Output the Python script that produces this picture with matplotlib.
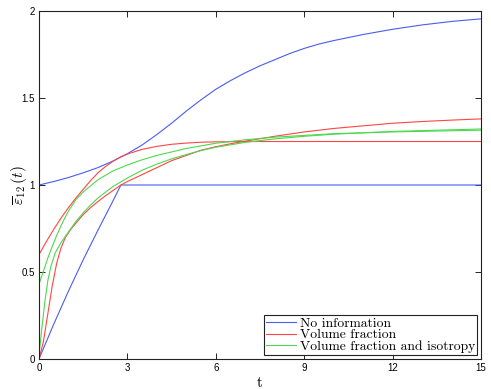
import numpy as np
import matplotlib
matplotlib.use('Agg')
import matplotlib.pyplot as plt
from matplotlib.ticker import FuncFormatter

plt.rcParams['mathtext.fontset'] = 'cm'

# values (t, bound)
t_noinfo_up = [0, 0.5, 1, 1.5, 2, 2.5, 3, 3.5, 4, 4.5, 5, 5.5, 6, 6.5, 7, 7.5, 8, 8.5, 9, 9.5, 10,
               11, 12, 13, 14, 15]
v_noinfo_up = [1.0, 1.02, 1.043, 1.07, 1.10, 1.137, 1.18, 1.23, 1.29, 1.355, 1.425, 1.49, 1.55, 1.60,
               1.645, 1.685, 1.72, 1.755, 1.785, 1.81, 1.83, 1.865, 1.895, 1.92, 1.94, 1.955]
t_noinfo_lo = [0, 0.5, 1, 1.5, 2, 2.5, 2.78, 15]
v_noinfo_lo = [0, 0.2, 0.39, 0.57, 0.74, 0.905, 1.0, 1.0]

t_vf_up = [0, 0.25, 0.5, 0.75, 1, 1.25, 1.5, 1.75, 2, 2.25, 2.5, 2.75, 3, 3.5, 4, 4.5, 5, 5.5, 6, 7, 15]
v_vf_up = [0.60, 0.675, 0.745, 0.81, 0.87, 0.925, 0.975, 1.025, 1.07, 1.105, 1.135, 1.16, 1.178,
           1.205, 1.222, 1.234, 1.241, 1.246, 1.248, 1.25, 1.25]
t_vf_lo = [0, 0.15, 0.3, 0.45, 0.6, 0.75, 0.9, 1.1, 1.3, 1.5, 1.75, 2, 2.25, 2.5, 2.78, 3, 3.5, 4, 4.5,
           5, 5.5, 6, 6.5, 7, 7.5, 8, 9, 10, 11, 12, 13, 14, 15]
v_vf_lo = [0, 0.1, 0.26, 0.42, 0.55, 0.64, 0.70, 0.75, 0.79, 0.83, 0.87, 0.905, 0.937, 0.967, 1.0,
           1.02, 1.06, 1.10, 1.14, 1.17, 1.20, 1.22, 1.237, 1.252, 1.266, 1.28, 1.305, 1.325, 1.34,
           1.355, 1.365, 1.373, 1.38]

t_iso_up = [0, 0.1, 0.2, 0.3, 0.4, 0.6, 0.8, 1.0, 1.25, 1.5, 1.75, 2, 2.5, 3, 3.5, 4, 4.5, 5, 5.5, 6,
            7, 8, 9, 10, 12, 15]
v_iso_up = [0.43, 0.48, 0.53, 0.58, 0.625, 0.71, 0.785, 0.85, 0.915, 0.96, 0.995, 1.03, 1.08, 1.115,
            1.145, 1.17, 1.19, 1.21, 1.225, 1.24, 1.26, 1.275, 1.285, 1.295, 1.305, 1.315]
t_iso_lo = [0, 0.05, 0.1, 0.2, 0.3, 0.4, 0.55, 0.75, 1.0, 1.25, 1.5, 1.75, 2, 2.5, 3, 3.5, 4, 4.5, 5,
            5.5, 6, 7, 8, 9, 10, 12, 15]
v_iso_lo = [0.03, 0.1, 0.18, 0.33, 0.45, 0.53, 0.61, 0.67, 0.73, 0.79, 0.84, 0.885, 0.925, 0.99, 1.04,
            1.085, 1.12, 1.15, 1.175, 1.198, 1.217, 1.245, 1.265, 1.28, 1.292, 1.308, 1.322]

labels = ['No information', 'Volume fraction', 'Volume fraction and isotropy']
colors = ['#4a5cf0', '#ff4545', '#4fd84f']

fig = plt.figure(figsize=(4.91, 3.89), dpi=100)
ax = fig.add_axes([0.0794, 0.0771, 0.9002, 0.8946])

lw = 0.8
ax.plot(t_noinfo_up, v_noinfo_up, color=colors[0], lw=lw, label=labels[0])
ax.plot(t_noinfo_lo, v_noinfo_lo, color=colors[0], lw=lw)
ax.plot(t_vf_up, v_vf_up, color=colors[1], lw=lw, label=labels[1])
ax.plot(t_vf_lo, v_vf_lo, color=colors[1], lw=lw)
ax.plot(t_iso_up, v_iso_up, color=colors[2], lw=lw, label=labels[2])
ax.plot(t_iso_lo, v_iso_lo, color=colors[2], lw=lw)

ax.set_xlim(0, 15)
ax.set_ylim(0, 2)
ax.set_xticks([0, 3, 6, 9, 12, 15])
ax.set_yticks([0, 0.5, 1, 1.5, 2])
ax.yaxis.set_major_formatter(FuncFormatter(lambda v, p: '%g' % v))
ax.tick_params(direction='in', top=True, right=True, length=4, width=0.6,
               labelsize=7, pad=3)
for lab in ax.get_xticklabels() + ax.get_yticklabels():
    lab.set_fontfamily('Liberation Sans')
for s in ax.spines.values():
    s.set_linewidth(0.8)
    s.set_color('#222222')

ax.set_xlabel('t', fontfamily='cmr10', fontsize=11, labelpad=2)
ax.set_ylabel(r'$\overline{\varepsilon}_{12}\,(t)$', fontsize=11)
ax.yaxis.set_label_coords(-0.022, 0.5)

leg = ax.legend(loc='lower right', prop={'family': 'cmr10', 'size': 9.8},
                labelspacing=-0.08, handlelength=2.2, handletextpad=0.3,
                borderpad=0.15, borderaxespad=0.3, fancybox=False,
                framealpha=1, edgecolor='#222222')
leg.get_frame().set_linewidth(0.8)

fig.savefig('out.png', dpi=100)
